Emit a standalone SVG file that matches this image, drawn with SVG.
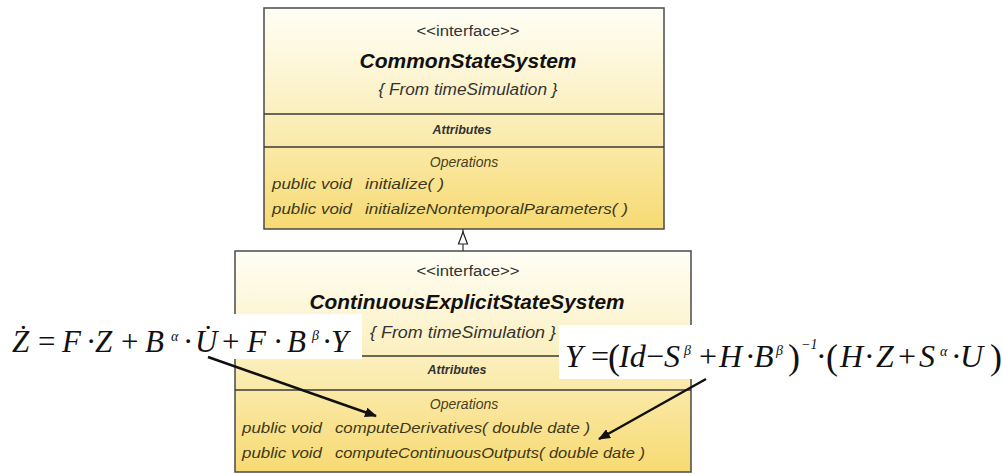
<svg xmlns="http://www.w3.org/2000/svg" width="1003" height="474" viewBox="0 0 1003 474">
<defs>
<linearGradient id="gBox" x1="0" y1="0" x2="0" y2="1">
<stop offset="0" stop-color="#fffef6"/>
<stop offset="0.4" stop-color="#fcf2c8"/>
<stop offset="1" stop-color="#f7da72"/>
</linearGradient>
<marker id="arr" viewBox="0 0 12 10" refX="11" refY="5" markerWidth="12" markerHeight="10" markerUnits="userSpaceOnUse" orient="auto">
<path d="M0,0 L12,5 L0,10 Z" fill="#111"/>
</marker>
<style>
.box{fill:url(#gBox);stroke:#4a4a4a;stroke-width:1.5}
.sep{stroke:#3a3a3a;stroke-width:1.5}
.ui{font-family:"Liberation Sans",Arial,sans-serif;fill:#333}
.st{font-size:14px;text-anchor:middle}
.ti{font-size:21px;font-weight:bold;font-style:italic;fill:#111;text-anchor:middle}
.fr{font-size:16px;font-style:italic;text-anchor:middle}
.at{font-size:12.5px;font-weight:bold;font-style:italic;text-anchor:middle}
.op{font-size:14px;font-style:italic;text-anchor:middle;fill:#4a4020}
.me{font-size:15px;font-style:italic;fill:#3e3818}
.eq{font-family:"Liberation Serif","Times New Roman",serif;fill:#111}
.v{font-style:italic}
.sup{font-size:14px;font-style:italic}
.par{font-size:36px}
.wb{fill:#fff}
.ln{stroke:#111;stroke-width:2.5;fill:none}
</style>
</defs>

<g id="node-CommonStateSystem">
<rect class="box" x="264" y="8" width="400" height="221"/>
<line class="sep" x1="264" y1="114" x2="664" y2="114"/>
<line class="sep" x1="264" y1="147" x2="664" y2="147"/>
<text class="ui st" x="468" y="36" textLength="103" lengthAdjust="spacingAndGlyphs">&lt;&lt;interface&gt;&gt;</text>
<text class="ui ti" x="468" y="68">CommonStateSystem</text>
<text class="ui fr" x="468" y="95" textLength="179" lengthAdjust="spacingAndGlyphs">{ From timeSimulation }</text>
<text class="ui at" x="462" y="134">Attributes</text>
<text class="ui op" x="464" y="167">Operations</text>
<text class="ui me" x="272" y="189" textLength="80" lengthAdjust="spacingAndGlyphs">public void</text>
<text class="ui me" x="365" y="189" textLength="79" lengthAdjust="spacingAndGlyphs">initialize(  )</text>
<text class="ui me" x="272" y="214" textLength="80" lengthAdjust="spacingAndGlyphs">public void</text>
<text class="ui me" x="365" y="214" textLength="263" lengthAdjust="spacingAndGlyphs">initializeNontemporalParameters(  )</text>
</g>

<g id="node-ContinuousExplicitStateSystem">
<rect class="box" x="235" y="251" width="456" height="221"/>
<line class="sep" x1="235" y1="356" x2="691" y2="356"/>
<line class="sep" x1="235" y1="390" x2="691" y2="390"/>
<text class="ui st" x="468" y="276" textLength="103" lengthAdjust="spacingAndGlyphs">&lt;&lt;interface&gt;&gt;</text>
<text class="ui ti" x="467" y="309" textLength="315" lengthAdjust="spacingAndGlyphs">ContinuousExplicitStateSystem</text>
<text class="ui fr" x="463" y="338" textLength="186" lengthAdjust="spacingAndGlyphs">{ From timeSimulation }</text>
<text class="ui at" x="457" y="374">Attributes</text>
<text class="ui op" x="464" y="409">Operations</text>
<text class="ui me" x="242" y="433" textLength="80" lengthAdjust="spacingAndGlyphs">public void</text>
<text class="ui me" x="335" y="433" textLength="255" lengthAdjust="spacingAndGlyphs">computeDerivatives( double date )</text>
<text class="ui me" x="242" y="458" textLength="80" lengthAdjust="spacingAndGlyphs">public void</text>
<text class="ui me" x="335" y="458" textLength="310" lengthAdjust="spacingAndGlyphs">computeContinuousOutputs( double date )</text>
</g>

<g id="node-equation-state">
<rect class="wb" x="0" y="314" width="362" height="45"/>
<text class="eq" y="352" font-size="31">
<tspan x="12" class="v">Ż</tspan><tspan x="38">=</tspan><tspan x="62" class="v">F</tspan><tspan x="86">·</tspan><tspan x="95" class="v">Z</tspan><tspan x="121">+</tspan><tspan x="145" class="v">B</tspan><tspan x="171" y="341" class="sup">α</tspan><tspan x="183" y="352">·</tspan><tspan x="195" class="v">U̇</tspan><tspan x="222">+</tspan><tspan x="247" class="v">F</tspan><tspan x="273">·</tspan><tspan x="287" class="v">B</tspan><tspan x="312" y="340" class="sup">β</tspan><tspan x="322" y="352">·</tspan><tspan x="331" class="v">Y</tspan>
</text>
</g>

<g id="node-equation-output">
<rect class="wb" x="559" y="325" width="444" height="54"/>
<text class="eq" y="367" font-size="32">
<tspan x="565" class="v">Y</tspan><tspan x="591">=</tspan><tspan x="608" y="369" class="par">(</tspan><tspan x="619" y="367" class="v">Id</tspan><tspan x="646">−</tspan><tspan x="664" class="v">S</tspan><tspan x="684" y="355" class="sup">β</tspan><tspan x="699" y="367">+</tspan><tspan x="719" class="v">H</tspan><tspan x="745">·</tspan><tspan x="754" class="v">B</tspan><tspan x="776" y="355" class="sup">β</tspan><tspan x="788" y="369" class="par">)</tspan><tspan x="801" y="349" class="sup" font-style="normal">−1</tspan><tspan x="816" y="367">·</tspan><tspan x="826" y="369" class="par">(</tspan><tspan x="840" y="367" class="v">H</tspan><tspan x="864">·</tspan><tspan x="876" class="v">Z</tspan><tspan x="898">+</tspan><tspan x="919" class="v">S</tspan><tspan x="940" y="356" class="sup">α</tspan><tspan x="951" y="367">·</tspan><tspan x="960" class="v">U</tspan><tspan x="990" y="369" class="par">)</tspan>
</text>
</g>

<g id="connectors">
<line x1="463" y1="229" x2="463" y2="233" stroke="#333" stroke-width="1.2"/>
<path d="M463,232 L467.5,244 L458.5,244 Z" fill="#fff" stroke="#222" stroke-width="1.2"/>
<line x1="463" y1="244" x2="463" y2="251" stroke="#333" stroke-width="1.2"/>
<line class="ln" x1="208" y1="357" x2="376" y2="416" marker-end="url(#arr)"/>
<line class="ln" x1="706" y1="379" x2="599" y2="439" marker-end="url(#arr)"/>
</g>
</svg>
